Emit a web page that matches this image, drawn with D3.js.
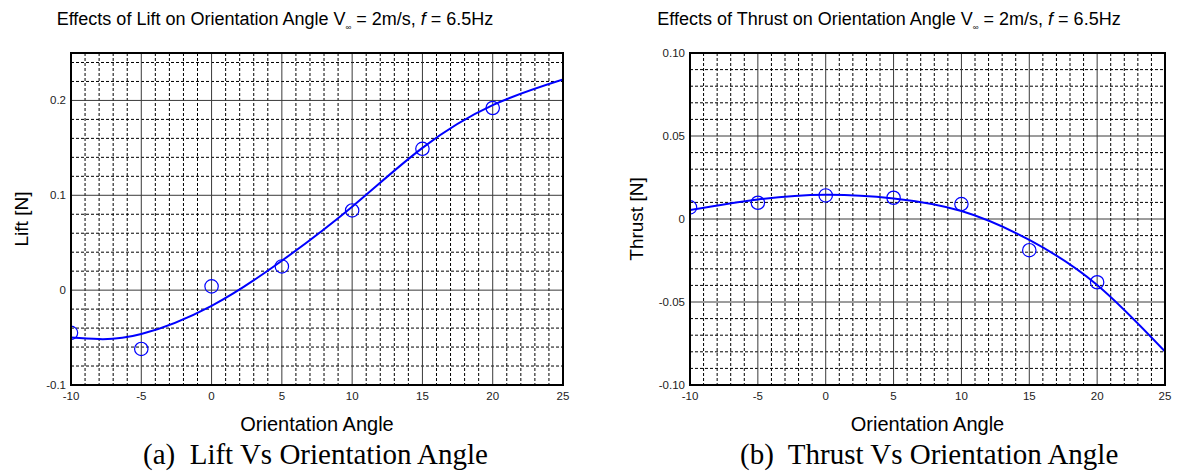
<!DOCTYPE html>
<html>
<head>
<meta charset="utf-8">
<script src="https://cdn.jsdelivr.net/npm/d3@7"></script>
<style>
  body { margin: 0; background: #fff; }
  svg { display: block; font-family: "Liberation Sans", Arial, sans-serif; }
  .minor line { stroke: #000; stroke-width: 1; stroke-dasharray: 3,2; }
  .major line { stroke: #3a3a3a; stroke-width: 1; }
  .fit { fill: none; stroke: #0000ff; stroke-width: 2; }
  .pt { fill: none; stroke: #0000ff; stroke-width: 1.2; }
</style>
</head>
<body>
<svg id="chart" width="1191" height="474"></svg>
<script>
var W = 1191, H = 474;

// measured points
var angles = [-10, -5, 0, 5, 10, 15, 20];
var liftPts = [-0.045, -0.062, 0.004, 0.025, 0.084, 0.149, 0.192];
var thrustPts = [0.007, 0.0098, 0.0142, 0.0128, 0.009, -0.0188, -0.0381];

// fitted curves
var liftFitX = [-10, -8, -5, 0, 5, 10, 15, 20, 25];
var liftFitY = [-0.050, -0.0516, -0.0463, -0.0165, 0.031, 0.088, 0.150, 0.195, 0.222];
var thrustFitX = [-10, -5, 0, 5, 10, 15, 20, 25];
var thrustFitY = [0.0054, 0.0118, 0.0146, 0.0124, 0.0048, -0.0126, -0.0397, -0.0798];

// ticks
var xTicks = [-10, -5, 0, 5, 10, 15, 20, 25];
var liftTicks = [-0.1, 0, 0.1, 0.2];
var liftTickLabels = ["-0.1", "0", "0.1", "0.2"];
var thrustTicks = [-0.1, -0.05, 0, 0.05, 0.1];
var thrustTickLabels = ["-0.10", "-0.05", "0", "0.05", "0.10"];

var svg = d3.select("#chart");
svg.append("rect").attr("width", W).attr("height", H).attr("fill", "#fff");

function drawPanel(o) {
  var x = d3.scaleLinear().domain([-10, 25]).range([o.left, o.right]);
  var y = d3.scaleLinear().domain(o.ydom).range([o.bottom, o.top]);
  var g = svg.append("g");

  // minor grid
  var minorX = d3.range(-10, 25.001, 1).filter(function(v) { return v % 5 !== 0; });
  var minorY = d3.range(0, Math.floor((o.ydom[1] - o.ydom[0]) / o.ystep + 1e-6) + 1)
    .map(function(i) { return o.ydom[0] + i * o.ystep; })
    .filter(function(v) { return v < o.ydom[1] - 1e-9; })
    .filter(function(v) { return Math.abs(Math.round(v / o.ymajor) * o.ymajor - v) > 1e-9; });
  var mn = g.append("g").attr("class", "minor");
  mn.selectAll(".vx").data(minorX).enter().append("line")
    .attr("x1", function(d) { return x(d); }).attr("x2", function(d) { return x(d); })
    .attr("y1", o.top).attr("y2", o.bottom);
  mn.selectAll(".hy").data(minorY).enter().append("line")
    .attr("y1", function(d) { return y(d); }).attr("y2", function(d) { return y(d); })
    .attr("x1", o.left).attr("x2", o.right);

  // major grid
  var mj = g.append("g").attr("class", "major");
  mj.selectAll(".vx").data(xTicks).enter().append("line")
    .attr("x1", function(d) { return x(d); }).attr("x2", function(d) { return x(d); })
    .attr("y1", o.top).attr("y2", o.bottom);
  mj.selectAll(".hy").data(o.yticks).enter().append("line")
    .attr("y1", function(d) { return y(d); }).attr("y2", function(d) { return y(d); })
    .attr("x1", o.left).attr("x2", o.right);

  // data
  var clipId = "clip" + o.id;
  svg.append("clipPath").attr("id", clipId).append("rect")
    .attr("x", o.left).attr("y", o.top).attr("width", o.right - o.left).attr("height", o.bottom - o.top);
  var pg = g.append("g").attr("clip-path", "url(#" + clipId + ")");
  var line = d3.line().curve(d3.curveNatural)
    .x(function(d) { return x(d[0]); }).y(function(d) { return y(d[1]); });
  pg.append("path").attr("class", "fit")
    .attr("d", line(o.fitX.map(function(v, i) { return [v, o.fitY[i]]; })));
  pg.selectAll("circle").data(angles).enter().append("circle").attr("class", "pt")
    .attr("cx", function(d) { return x(d); })
    .attr("cy", function(d, i) { return y(o.pts[i]); })
    .attr("r", 6.7);

  // frame
  g.append("rect").attr("x", o.left).attr("y", o.top)
    .attr("width", o.right - o.left).attr("height", o.bottom - o.top)
    .attr("fill", "none").attr("stroke", "#000").attr("stroke-width", 2);

  // tick labels
  g.selectAll(".xl").data(xTicks).enter().append("text")
    .attr("x", function(d) { return x(d); }).attr("y", o.bottom + 15)
    .attr("text-anchor", "middle").attr("font-size", 11.5).attr("fill", "#222")
    .text(function(d) { return d; });
  g.selectAll(".yl").data(o.yticks).enter().append("text")
    .attr("x", o.left - 5).attr("y", function(d) { return y(d) + 4; })
    .attr("text-anchor", "end").attr("font-size", 11.5).attr("fill", "#222")
    .text(function(d, i) { return o.ylabels[i]; });

  // axis titles
  g.append("text").attr("x", (o.left + o.right) / 2).attr("y", 431)
    .attr("text-anchor", "middle").attr("font-size", 20).text("Orientation Angle");
  g.append("text")
    .attr("transform", "translate(" + o.ytitleX + "," + ((o.top + o.bottom) / 2) + ") rotate(-90)")
    .attr("text-anchor", "middle").attr("font-size", 19).text(o.ytitle);

  // chart title
  var t = g.append("text").attr("x", o.titleX).attr("y", 25)
    .attr("text-anchor", "middle").attr("font-size", 18);
  t.append("tspan").text("Effects of " + o.word + " on Orientation Angle V");
  t.append("tspan").attr("font-size", 8).attr("dy", 5).text("\u221E");
  t.append("tspan").attr("dy", -5).text(" = 2m/s, ");
  t.append("tspan").attr("font-style", "italic").text("f");
  t.append("tspan").text(" = 6.5Hz");

  // caption
  g.append("text").attr("x", o.capX).attr("y", 464)
    .attr("font-family", "'Liberation Serif', 'Times New Roman', serif")
    .attr("font-size", 29).attr("xml:space", "preserve").text(o.caption);
}

drawPanel({
  id: "a", left: 71, right: 563, top: 53, bottom: 385,
  ydom: [-0.1, 0.25], ystep: 0.02, ymajor: 0.1,
  yticks: liftTicks, ylabels: liftTickLabels,
  pts: liftPts, fitX: liftFitX, fitY: liftFitY,
  ytitle: "Lift [N]", ytitleX: 28, word: "Lift", titleX: 275,
  caption: "(a)  Lift Vs Orientation Angle", capX: 143
});
drawPanel({
  id: "b", left: 690, right: 1165, top: 53, bottom: 385,
  ydom: [-0.1, 0.1], ystep: 0.01, ymajor: 0.05,
  yticks: thrustTicks, ylabels: thrustTickLabels,
  pts: thrustPts, fitX: thrustFitX, fitY: thrustFitY,
  ytitle: "Thrust [N]", ytitleX: 643, word: "Thrust", titleX: 889,
  caption: "(b)  Thrust Vs Orientation Angle", capX: 740
});
</script>
</body>
</html>
